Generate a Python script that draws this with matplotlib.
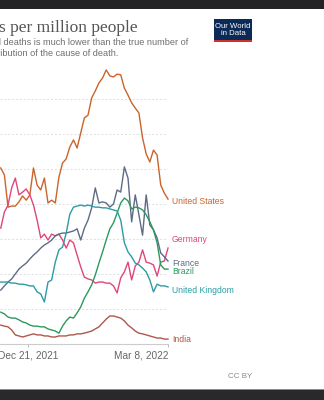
import matplotlib.pyplot as plt
import pandas as pd
from matplotlib.patches import Rectangle

# 7-day rolling daily deaths per million, sampled every 2 days from Dec 6, 2021
dates = pd.date_range('2021-12-06', periods=47, freq='2D')

united_states = [5.03, 4.83, 3.91, 3.94, 3.94, 4.06, 4.23, 4.11, 4.26, 5.03, 4.54, 4.40,
                 4.74, 4.03, 4.11, 4.03, 4.77, 5.17, 5.29, 5.63, 5.83, 5.60, 6.03, 6.46,
                 6.54, 7.03, 7.23, 7.46, 7.60, 7.83, 7.66, 7.63, 7.71, 7.69, 7.31, 7.11,
                 6.89, 6.74, 6.60, 5.89, 5.43, 5.20, 5.54, 5.40, 4.54, 4.31, 4.14]
germany = [3.31, 3.77, 3.97, 4.46, 4.74, 4.26, 4.34, 4.43, 4.26, 3.97, 3.54, 3.03,
           3.14, 2.97, 3.14, 3.09, 3.14, 2.97, 2.74, 2.97, 2.89, 2.54, 2.20, 1.91,
           1.86, 1.83, 1.74, 1.77, 1.77, 1.74, 1.74, 1.66, 1.46, 1.89, 2.06, 2.34,
           1.83, 2.23, 2.34, 2.69, 2.34, 2.31, 2.26, 1.94, 2.34, 2.37, 2.74]
france = [1.54, 1.66, 1.77, 1.86, 2.00, 2.14, 2.23, 2.31, 2.43, 2.54, 2.63, 2.74,
          2.83, 2.89, 2.97, 3.09, 3.14, 3.17, 3.17, 3.20, 3.23, 3.29, 2.97, 3.31,
          3.54, 3.89, 4.46, 4.03, 4.06, 4.03, 3.91, 4.00, 4.40, 4.34, 5.06, 4.74,
          3.49, 4.26, 3.69, 3.11, 4.26, 3.40, 3.26, 3.03, 2.60, 2.49, 2.37]
brazil = [0.91, 0.86, 0.77, 0.74, 0.74, 0.69, 0.63, 0.60, 0.54, 0.51, 0.51, 0.49,
          0.49, 0.43, 0.40, 0.37, 0.31, 0.51, 0.66, 0.77, 0.74, 0.89, 1.06, 1.31,
          1.49, 1.69, 1.97, 2.31, 2.63, 2.97, 3.29, 3.46, 3.74, 4.03, 4.17, 4.09,
          3.86, 3.91, 3.89, 3.83, 3.69, 3.49, 3.26, 2.89, 2.26, 2.14, 2.14]
united_kingdom = [1.77, 1.77, 1.77, 1.74, 1.74, 1.71, 1.71, 1.69, 1.66, 1.66, 1.49, 1.43,
                  1.20, 1.77, 1.83, 2.34, 2.69, 2.77, 3.17, 3.71, 3.91, 3.94, 3.97, 3.94,
                  3.97, 3.94, 3.91, 3.91, 3.89, 3.89, 3.86, 3.83, 3.80, 3.54, 2.89, 2.63,
                  2.49, 2.31, 2.26, 2.17, 2.06, 1.83, 1.49, 1.71, 1.66, 1.66, 1.63]
india = [0.54, 0.51, 0.49, 0.40, 0.26, 0.23, 0.20, 0.23, 0.26, 0.29, 0.26, 0.26,
         0.23, 0.23, 0.20, 0.20, 0.23, 0.23, 0.23, 0.26, 0.26, 0.29, 0.29, 0.31,
         0.34, 0.37, 0.43, 0.49, 0.60, 0.71, 0.80, 0.80, 0.77, 0.74, 0.66, 0.54,
         0.46, 0.37, 0.31, 0.29, 0.26, 0.23, 0.20, 0.17, 0.17, 0.14, 0.14]

countries = ['United States', 'Germany', 'France', 'Brazil', 'United Kingdom', 'India']
series = [united_states, germany, france, brazil, united_kingdom, india]
colors = ['#c9642a', '#e0457b', '#5d6b85', '#2a9a5c', '#2b9ca3', '#b0564c']
label_y = [4.06, 3.0, 2.31, 2.06, 1.54, 0.14]

tick_dates = [pd.Timestamp('2021-12-21'), pd.Timestamp('2022-03-08')]
tick_labels = ['Dec 21, 2021', 'Mar 8, 2022']

W, H = 324, 400
fig = plt.figure(figsize=(W / 100, H / 100), dpi=100)
fig.patch.set_facecolor('white')

ax = fig.add_axes([0, 56 / H, 168 / W, 280 / H])
for vals, c in zip(series, colors):
    ax.plot(dates, vals, color=c, lw=1.0, clip_on=False, zorder=3)

ax.set_xlim(pd.Timestamp('2021-12-05 14:00'), pd.Timestamp('2022-03-08'))
ax.set_ylim(0, 8)
ax.set_yticks(range(1, 8))
ax.set_yticklabels([])
ax.tick_params(axis='y', length=0)
ax.grid(axis='y', color='#dddddd', lw=0.7, ls=(0, (2, 2)))
for s in ['top', 'left', 'right']:
    ax.spines[s].set_visible(False)
ax.spines['bottom'].set_color('#cccccc')
ax.spines['bottom'].set_linewidth(0.8)

ax.set_xticks(tick_dates)
ax.set_xticklabels(tick_labels, fontsize=7.3, color='#666666', family='Liberation Sans')
ax.get_xticklabels()[1].set_ha('right')
ax.tick_params(axis='x', length=2.5, width=0.7, color='#bbbbbb', pad=2)

label_x = pd.Timestamp('2022-03-10 04:00')
for name, c, y in zip(countries, colors, label_y):
    ax.text(label_x, y, name, color=c, fontsize=6.2, va='center', ha='left',
            family='Liberation Sans', clip_on=False)

# header text
fig.text(138 / W, 1 - 32 / H, 'Daily new confirmed COVID-19 deaths per million people',
         ha='right', va='baseline', fontsize=12.5, color='#555555', family='Liberation Serif')
fig.text(188 / W, 1 - 45 / H, 'For some countries the number of confirmed deaths is much lower than the true number of',
         ha='right', va='baseline', fontsize=6.55, color='#6e6e6e', family='Liberation Sans')
fig.text(118 / W, 1 - 55.5 / H, 'challenges in the attribution of the cause of death.',
         ha='right', va='baseline', fontsize=6.55, color='#6e6e6e', family='Liberation Sans')

# logo
fig.patches.append(Rectangle((214 / W, 1 - 42 / H), 38 / W, 23 / H, transform=fig.transFigure,
                             facecolor='#0b2a57', edgecolor='none'))
fig.patches.append(Rectangle((214 / W, 1 - 42 / H), 38 / W, 2 / H, transform=fig.transFigure,
                             facecolor='#d0312d', edgecolor='none'))
fig.text(233 / W, 1 - 30 / H, 'Our World\nin Data', ha='center', va='center', fontsize=5.6,
         color='white', family='Liberation Sans', linespacing=0.95)

fig.text(240 / W, 1 - 377 / H, 'CC BY', ha='center', va='center', fontsize=5.8,
         color='#888888', family='Liberation Sans')

# dark bands of the screen capture
fig.patches.append(Rectangle((0, 1 - 9 / H), 1, 9 / H, transform=fig.transFigure,
                             facecolor='#232325', edgecolor='none'))
fig.patches.append(Rectangle((0, 0), 1, 10 / H, transform=fig.transFigure,
                             facecolor='#29292b', edgecolor='none'))
fig.patches.append(Rectangle((0, 10 / H), 1, 1 / H, transform=fig.transFigure,
                             facecolor='#8a8a8a', edgecolor='none'))

fig.savefig('out.png', dpi=100)
